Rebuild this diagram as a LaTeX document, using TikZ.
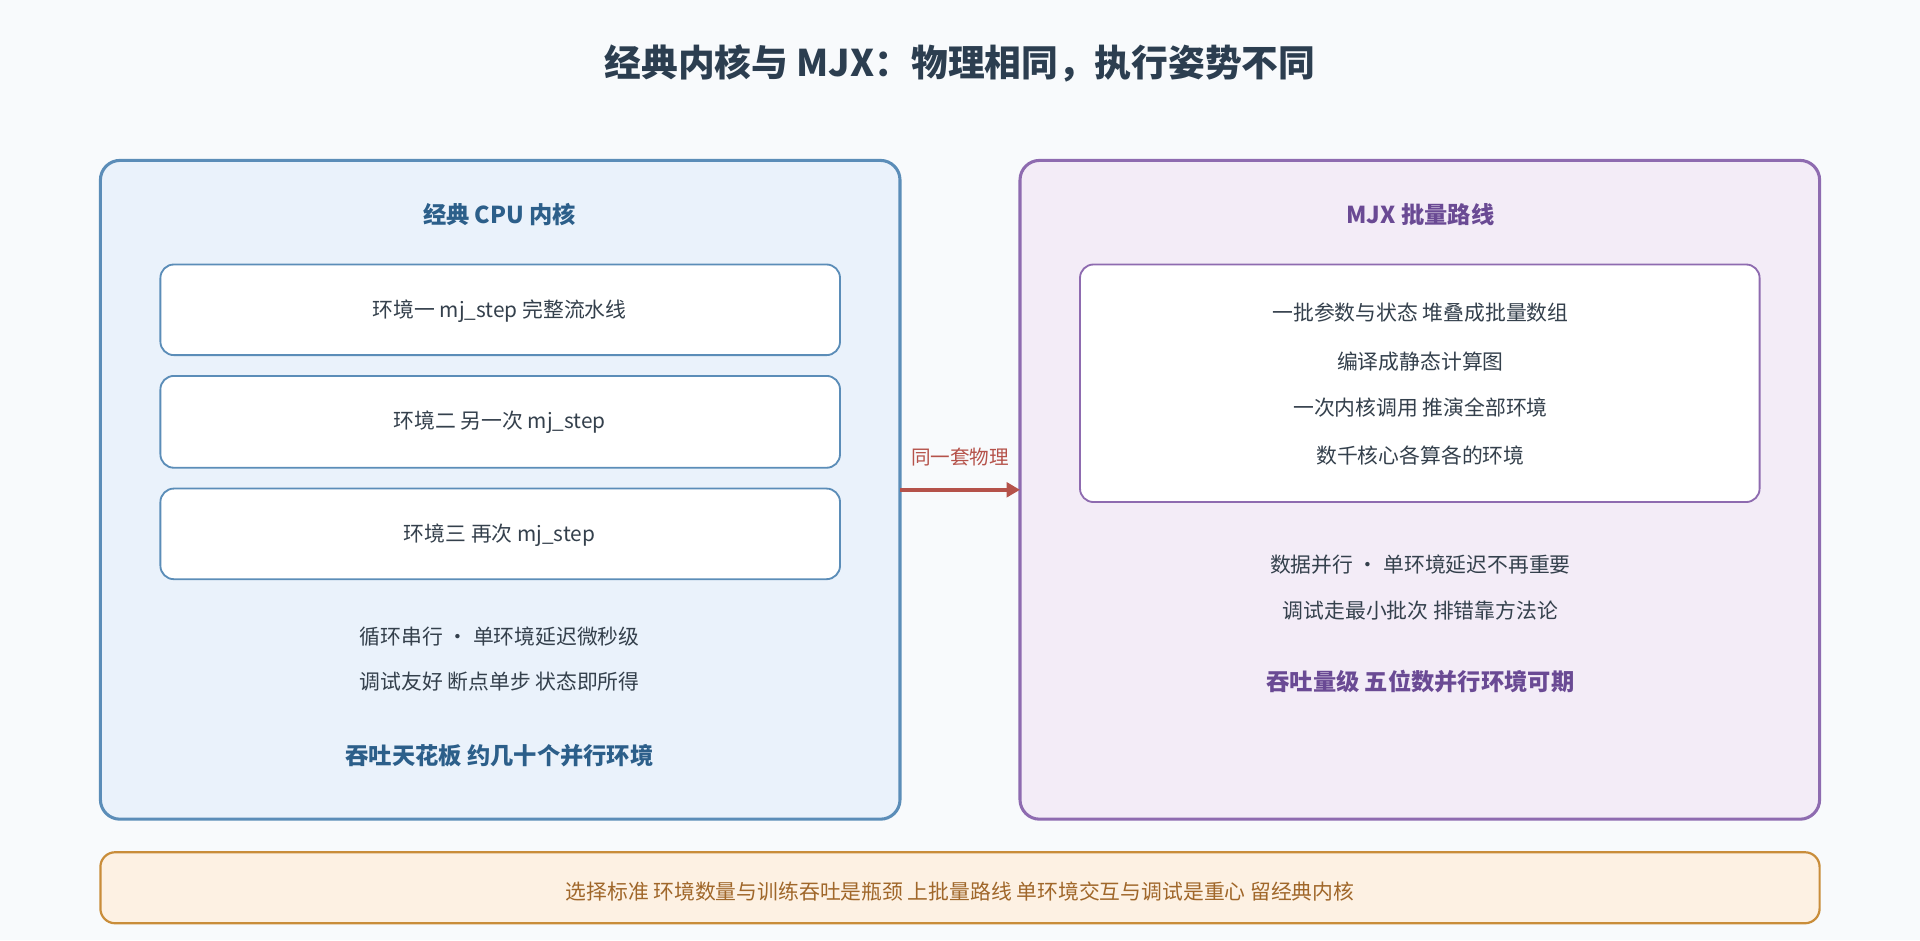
\documentclass[tikz,border=0pt]{standalone}
\usepackage{fontspec}
\setmainfont{Noto Sans CJK SC}
\usetikzlibrary{arrows.meta}
\definecolor{bg}{HTML}{F8FAFC}
\definecolor{ttl}{HTML}{2C3E50}
\definecolor{lfill}{HTML}{EAF2FB}
\definecolor{lline}{HTML}{5B8DB8}
\definecolor{ltxt}{HTML}{2C5F8A}
\definecolor{rfill}{HTML}{F3ECF7}
\definecolor{rline}{HTML}{8E6BB0}
\definecolor{rtxt}{HTML}{6A4A94}
\definecolor{arr}{HTML}{B5524A}
\definecolor{bfill}{HTML}{FDF1E3}
\definecolor{bline}{HTML}{C98D3A}
\definecolor{btxt}{HTML}{A0672A}
\definecolor{body}{HTML}{34404C}
\begin{document}
\begin{tikzpicture}[x=1pt,y=-1pt,
  panel/.style={draw,line width=2.5pt,rounded corners=16pt},
  inner/.style={draw,line width=1.5pt,rounded corners=11pt,fill=white},
  txt/.style={font=\fontsize{17}{20}\selectfont,text=body},
  btx/.style={font=\fontsize{19}{22}\selectfont\bfseries}]
\fill[bg] (0,0) rectangle (1568,768);
\useasboundingbox (0,0) rectangle (1568,768);
\node[font=\fontsize{30}{36}\selectfont\bfseries,text=ttl] (title) at (784,52) {经典内核与 MJX：物理相同，执行姿势不同};
% left
\draw[panel,draw=lline,fill=lfill] (82,131) rectangle (735,669);
\coordinate (L) at (735,400);
\node[btx,text=ltxt] (lt) at (408,175) {经典 CPU 内核};
\draw[inner,draw=lline] (131,216) rectangle (686,290);
\node[txt] (e1) at (408,254) {环境一 mj\_step 完整流水线};
\draw[inner,draw=lline] (131,307) rectangle (686,382);
\node[txt] (e2) at (408,345) {环境二 另一次 mj\_step};
\draw[inner,draw=lline] (131,399) rectangle (686,473);
\node[txt] (e3) at (408,437) {环境三 再次 mj\_step};
\node[txt] (l1) at (408,520) {循环串行 · 单环境延迟微秒级};
\node[txt] (l2) at (408,557) {调试友好 断点单步 状态即所得};
\node[btx,text=ltxt] (l3) at (408,617) {吞吐天花板 约几十个并行环境};
% right
\draw[panel,draw=rline,fill=rfill] (833,131) rectangle (1486,669);
\coordinate (R) at (833,400);
\node[btx,text=rtxt] (rt) at (1160,175) {MJX 批量路线};
\draw[inner,draw=rline] (882,216) rectangle (1437,410);
\node[txt] (r1) at (1160,255) {一批参数与状态 堆叠成批量数组};
\node[txt] (r2) at (1160,295) {编译成静态计算图};
\node[txt] (r3) at (1160,333) {一次内核调用 推演全部环境};
\node[txt] (r4) at (1160,372) {数千核心各算各的环境};
\node[txt] (r5) at (1160,461) {数据并行 · 单环境延迟不再重要};
\node[txt] (r6) at (1160,499) {调试走最小批次 排错靠方法论};
\node[btx,text=rtxt] (r7) at (1160,557) {吞吐量级 五位数并行环境可期};
% arrow
\draw[arr,line width=3pt,-{Triangle[length=11pt,width=12pt]}] (L) -- (R);
\node[font=\fontsize{16}{19}\selectfont,text=arr] (al) at (784,373) {同一套物理};
% bottom
\draw[draw=bline,fill=bfill,line width=1.8pt,rounded corners=12pt] (82,696) rectangle (1486,754);
\node[font=\fontsize{17}{20}\selectfont,text=btxt] (bt) at (784,728) {选择标准 环境数量与训练吞吐是瓶颈 上批量路线 单环境交互与调试是重心 留经典内核};
\end{tikzpicture}
\end{document}
